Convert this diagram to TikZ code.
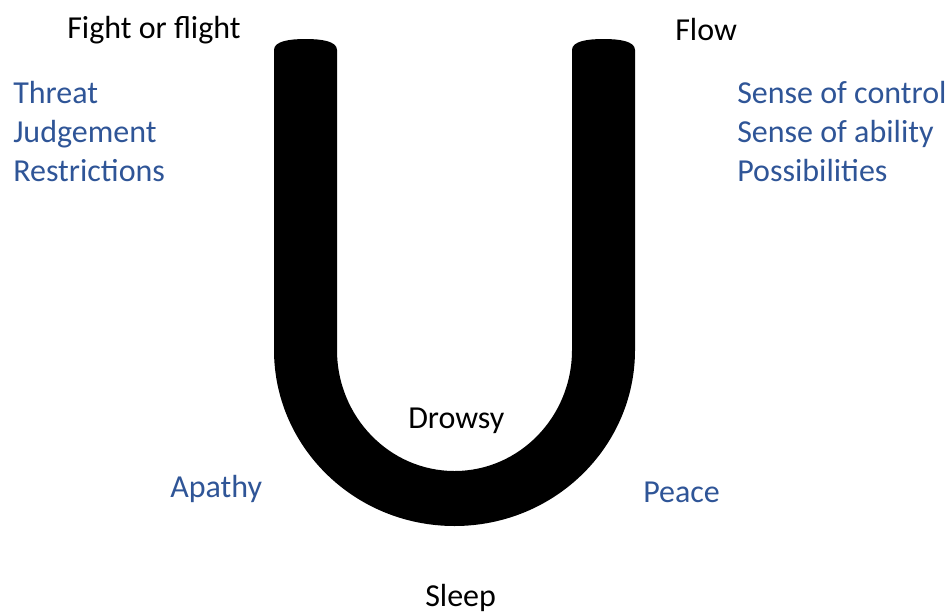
\documentclass[tikz,border=0pt]{standalone}
\usepackage{fontspec}
\setmainfont{Carlito}
\usetikzlibrary{positioning}
\definecolor{stateblue}{RGB}{47,85,151}

\begin{document}
\begin{tikzpicture}[x=0.75pt, y=-0.75pt,
    txt/.style={anchor=base west, inner sep=0pt, font=\fontsize{24pt}{29.3pt}\selectfont},
    bluetxt/.style={txt, text=stateblue}]
  \useasboundingbox (0,0) rectangle (952,614);
  % the U
  \fill[black] (274,350) -- (274,50) .. controls (274,41) and (290,39) .. (305.5,39)
    .. controls (321,39) and (337,41) .. (337,50) -- (337,350)
    arc[start angle=180, end angle=0, x radius=117.5, y radius=121]
    -- (572,50) .. controls (572,41) and (588,39) .. (603.5,39)
    .. controls (619,39) and (635,41) .. (635,50) -- (635,350)
    arc[start angle=0, end angle=180, x radius=180.5, y radius=176] -- cycle;

  \node[txt] (fight) at (67,38) {Fight or flight};
  \node[txt] (flow) at (675,40) {Flow};
  \node[bluetxt] (threat) at (13,103) {Threat};
  \node[bluetxt] (judgement) at (13,142) {Judgement};
  \node[bluetxt] (restrictions) at (13,181) {Restrictions};
  \node[bluetxt] (control) at (737,103) {Sense of control};
  \node[bluetxt] (ability) at (737,142) {Sense of ability};
  \node[bluetxt] (possibilities) at (737,181) {Possibilities};
  \node[txt] (drowsy) at (408,428) {Drowsy};
  \node[bluetxt] (apathy) at (170,497) {Apathy};
  \node[bluetxt] (peace) at (643,502) {Peace};
  \node[txt] (sleep) at (425,606) {Sleep};
\end{tikzpicture}
\end{document}
